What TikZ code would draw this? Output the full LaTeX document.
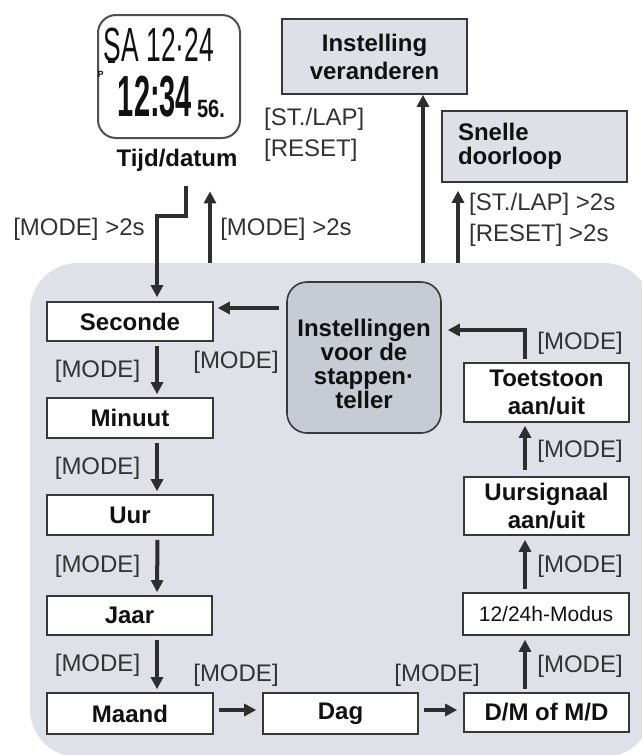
\documentclass[tikz,border=0pt]{standalone}
\usepackage{fontspec}
\setmainfont{Liberation Sans}
\usetikzlibrary{arrows.meta}
\definecolor{panelc}{HTML}{DEE1E7}
\definecolor{instc}{HTML}{C7CBD3}
\definecolor{topc}{HTML}{DDE0E6}
\definecolor{boxc}{HTML}{383838}
\definecolor{arrc}{HTML}{2E2E2E}
\definecolor{labc}{HTML}{333333}
\definecolor{txtc}{HTML}{111111}
\definecolor{lcdc}{HTML}{505050}
\begin{document}
\begin{tikzpicture}[x=1pt,y=-1pt,
  lab/.style={text=labc,font=\fontsize{24}{31}\selectfont,inner sep=0pt},
  box/.style={draw=boxc,line width=1.6pt,fill=white,text=txtc,inner sep=0pt,align=center,
    font=\bfseries\fontsize{24}{28}\selectfont},
  greybox/.style={box,fill=topc},
  arr/.style={draw=arrc,line width=4pt,-{Triangle[width=12pt,length=12pt]}},
  lcdtxt/.style={text=txtc,inner sep=0pt}
]
\useasboundingbox (0,0) rectangle (641,755);

% main panel
\node[fill=panelc,rounded corners=48pt,minimum width=622pt,minimum height=494pt,inner sep=0pt] (panel) at (341,510) {};

% LCD display
\node[draw=lcdc,line width=2pt,rounded corners=18pt,fill=white,minimum width=142pt,minimum height=123pt,inner sep=0pt] (lcd) at (169,76.5) {};
\node[lcdtxt,font=\fontsize{48}{48}\selectfont] (lcdtop) at (159,45) {\scalebox{0.55}[1]{SA 12·24}};
\node[lcdtxt,font=\bfseries\fontsize{58}{58}\selectfont] (lcdtime) at (155,97) {\scalebox{0.5}[1]{12:34}};
\node[lcdtxt,font=\bfseries\fontsize{25}{25}\selectfont] (lcdsec) at (211,109) {\scalebox{0.8}[1]{56.}};
\node[lcdtxt,font=\bfseries\fontsize{9}{9}\selectfont] (lcdp) at (100.5,74) {P};
\fill[txtc] (108,59) rectangle (115,63);
\node[text=txtc,inner sep=0pt,font=\bfseries\fontsize{24}{28}\selectfont] (tijd) at (177,160) {Tijd/datum};

% top boxes
\node[greybox,minimum width=185pt,minimum height=75pt] (ver) at (374.5,56.5) {Instelling\\veranderen};
\node[greybox,minimum width=185pt,minimum height=71pt,align=left,text width=153pt,inner xsep=16pt,
  font=\bfseries\fontsize{24}{24}\selectfont] (snel) at (534.5,146.5) {Snelle\\doorloop};

% inner boxes
\node[box,minimum width=166pt,minimum height=39pt] (sec) at (130,321.5) {Seconde};
\node[box,minimum width=166pt,minimum height=40pt] (min) at (130,418) {Minuut};
\node[box,minimum width=166pt,minimum height=40pt] (uur) at (130,515) {Uur};
\node[box,minimum width=165pt,minimum height=39pt] (jaar) at (129.5,615.5) {Jaar};
\node[box,minimum width=166pt,minimum height=41pt] (maand) at (130,713.5) {Maand};
\node[box,minimum width=155pt,minimum height=41pt] (dag) at (340.5,713.5) {Dag};
\node[box,minimum width=165pt,minimum height=39pt] (dm) at (546.5,712.5) {D/M of M/D};
\node[box,minimum width=166pt,minimum height=42pt,font=\fontsize{21}{24}\selectfont] (modus) at (546,614) {12/24h-Modus};
\node[box,minimum width=165pt,minimum height=58pt] (uurs) at (546.5,506) {Uursignaal\\aan/uit};
\node[box,minimum width=165pt,minimum height=59pt] (toets) at (546.5,392.5) {Toetstoon\\aan/uit};
\node[box,fill=instc,rounded corners=20pt,minimum width=154pt,minimum height=151pt,
  font=\bfseries\fontsize{24}{24}\selectfont] (inst) at (364,357.5) {\rule{0pt}{31pt}Instellingen\\voor de\\stappen·\\teller};

% arrows top
\coordinate (ua) at ([xshift=33pt]tijd.south);
\draw[arr,shorten >=20pt] (ua |- panel.north) -- (ua);
\coordinate (da) at ([xshift=9pt,yshift=-15pt]tijd.south);
\draw[arr,shorten >=4pt] (da) -- ++(0,30) -| ([xshift=27pt]sec.north);
\coordinate (va) at ([xshift=48.5pt]ver.south);
\draw[arr] (va |- panel.north) -- (va);
\coordinate (sa) at ([xshift=-76.5pt]snel.south);
\draw[arr,shorten >=8pt] (sa |- panel.north) -- (sa);

% inner arrows
\coordinate (ia) at ([yshift=49.5pt]inst.west);
\draw[arr,shorten <=7pt,shorten >=4pt] (ia) -- (ia -| sec.east);
\draw[arr,shorten <=4pt,shorten >=3pt] ([xshift=27pt]sec.south) -- ([xshift=27pt]min.north);
\draw[arr,shorten <=4pt,shorten >=3pt] ([xshift=27pt]min.south) -- ([xshift=27pt]uur.north);
\draw[arr,shorten <=4pt,shorten >=3pt] ([xshift=27.5pt]uur.south) -- ([xshift=27.5pt]jaar.north);
\draw[arr,shorten <=4pt,shorten >=3pt] ([xshift=27.5pt]jaar.south) -- ([xshift=27pt]maand.north);
\draw[arr,shorten <=5pt,shorten >=6pt] ([yshift=3.5pt]maand.east) -- ([yshift=3.5pt]dag.west);
\draw[arr,shorten <=5pt,shorten >=6pt] ([yshift=3.5pt]dag.east) -- ([yshift=2.5pt]dm.west);
\draw[arr,shorten <=3pt,shorten >=4pt] ([xshift=-21.5pt]dm.north) -- ([xshift=-21pt]modus.south);
\draw[arr,shorten <=3pt,shorten >=4pt] ([xshift=-21pt]modus.north) -- ([xshift=-21.5pt]uurs.south);
\draw[arr,shorten <=6pt,shorten >=3pt] ([xshift=-21.5pt]uurs.north) -- ([xshift=-21.5pt]toets.south);
\coordinate (ta) at ([xshift=-21.5pt,yshift=3pt]toets.north);
\draw[arr,shorten >=6pt] (ta) |- ([yshift=27.5pt]inst.east);

% labels
\node[lab] (l1) at (79,229) {[MODE] >2s};
\node[lab] (l2) at (286,229) {[MODE] >2s};
\node[lab,align=left,anchor=west] (l3) at (264,135) {[ST./LAP]\\{}[RESET]};
\node[lab,align=left,anchor=west] (l4) at (469,220) {[ST./LAP] >2s\\{}[RESET] >2s};
\node[lab] (m1) at (97.5,371) {[MODE]};
\node[lab] (m2) at (97.5,468) {[MODE]};
\node[lab] (m3) at (97.5,566) {[MODE]};
\node[lab] (m4) at (97.5,665) {[MODE]};
\node[lab] (m5) at (236,362) {[MODE]};
\node[lab] (m6) at (236,675) {[MODE]};
\node[lab] (m7) at (437,675) {[MODE]};
\node[lab] (m8) at (580,343) {[MODE]};
\node[lab] (m9) at (580,451) {[MODE]};
\node[lab] (m10) at (580,566) {[MODE]};
\node[lab] (m11) at (580,666) {[MODE]};
\end{tikzpicture}
\end{document}
